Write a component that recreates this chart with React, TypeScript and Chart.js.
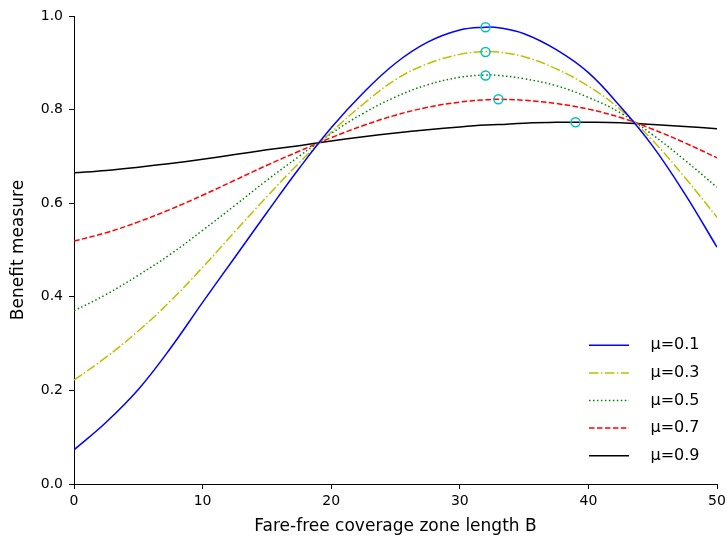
import React, { useEffect, useRef } from 'react';
import { Chart, registerables } from 'chart.js';

Chart.register(...registerables);

// Fare-free coverage zone length B (x positions of the sampled points)
const B = [0, 2.5, 5, 7.5, 10, 12.5, 15, 17.5, 20, 22.5, 25, 27.5, 30, 32, 33, 35, 37.5, 40, 42.5, 45, 47.5, 50];

// Benefit measure for each μ
const MU01 = [0.073, 0.132, 0.202, 0.290, 0.388, 0.484, 0.580, 0.674, 0.761, 0.836, 0.899, 0.944, 0.970, 0.976, 0.975, 0.962, 0.928, 0.879, 0.806, 0.722, 0.620, 0.506];
const MU03 = [0.222, 0.271, 0.327, 0.391, 0.463, 0.539, 0.614, 0.686, 0.752, 0.812, 0.864, 0.898, 0.918, 0.924, 0.923, 0.913, 0.887, 0.850, 0.800, 0.734, 0.655, 0.570];
const MU05 = [0.370, 0.405, 0.446, 0.491, 0.542, 0.595, 0.649, 0.700, 0.749, 0.792, 0.827, 0.853, 0.869, 0.874, 0.873, 0.866, 0.851, 0.826, 0.793, 0.746, 0.692, 0.634];
const MU07 = [0.519, 0.537, 0.560, 0.587, 0.617, 0.649, 0.681, 0.711, 0.740, 0.766, 0.788, 0.805, 0.816, 0.821, 0.822, 0.820, 0.813, 0.801, 0.783, 0.758, 0.729, 0.697];
const MU09 = [0.665, 0.670, 0.677, 0.685, 0.694, 0.704, 0.714, 0.723, 0.733, 0.742, 0.750, 0.757, 0.763, 0.767, 0.768, 0.771, 0.773, 0.773, 0.772, 0.768, 0.764, 0.759];

const SERIES_LABELS = ['μ=0.1', 'μ=0.3', 'μ=0.5', 'μ=0.7', 'μ=0.9'];
const SERIES_VALUES = [MU01, MU03, MU05, MU07, MU09];

// Maxima markers
const PEAK_B = [32, 32, 32, 33, 39];
const PEAK_VALUES = [0.976, 0.923, 0.873, 0.822, 0.773];

const X_TICKS_STEP = 10;
const Y_TICKS_STEP = 0.2;

const COLORS = ['#0000FF', '#BFBF00', '#008000', '#FF0000', '#000000'];
const DASHES: number[][] = [[], [9.6, 2.4, 1.5, 2.4], [1.5, 2.475], [5.55, 2.4], []];
const FONT = "'DejaVu Sans', sans-serif";

const legendPlugin = {
  id: 'insideLegend',
  afterDraw(chart: any) {
    const { ctx, chartArea } = chart;
    const n = SERIES_LABELS.length;
    const rowGap = 27.6;
    const lastY = chartArea.bottom - 28.3;
    const x0 = chartArea.right - 128;
    const x1 = chartArea.right - 88;
    const tx = chartArea.right - 66.5;
    ctx.save();
    for (let i = 0; i < n; i++) {
      const y = lastY - (n - 1 - i) * rowGap;
      ctx.beginPath();
      ctx.setLineDash(DASHES[i]);
      ctx.strokeStyle = COLORS[i];
      ctx.lineWidth = 1.5;
      ctx.moveTo(x0, y);
      ctx.lineTo(x1, y);
      ctx.stroke();
      ctx.setLineDash([]);
      ctx.fillStyle = '#000';
      ctx.font = `16px ${FONT}`;
      ctx.textBaseline = 'middle';
      ctx.textAlign = 'left';
      ctx.fillText(SERIES_LABELS[i], tx, y);
    }
    ctx.restore();
  },
};

export default function App() {
  const ref = useRef<HTMLCanvasElement | null>(null);

  useEffect(() => {
    document.body.style.margin = '0';
    const canvas = ref.current;
    if (!canvas) return;

    const lineSets = SERIES_VALUES.map((vals, i) => ({
      type: 'line' as const,
      label: SERIES_LABELS[i],
      data: B.map((b, j) => ({ x: b, y: vals[j] })),
      borderColor: COLORS[i],
      backgroundColor: COLORS[i],
      borderWidth: 1.5,
      borderDash: DASHES[i],
      pointRadius: 0,
      fill: false,
      tension: 0.4,
      order: 1,
    }));

    const markerSet = {
      type: 'scatter' as const,
      label: 'peaks',
      data: PEAK_B.map((b, j) => ({ x: b, y: PEAK_VALUES[j] })),
      borderColor: '#00BFBF',
      backgroundColor: 'rgba(0,0,0,0)',
      borderWidth: 1.5,
      pointRadius: 4.5,
      pointStyle: 'circle',
      showLine: false,
      order: 0,
    };

    const chart = new Chart(canvas, {
      type: 'line',
      data: { datasets: [...lineSets, markerSet] as any },
      options: {
        animation: false,
        responsive: false,
        maintainAspectRatio: false,
        layout: { padding: { left: 0, right: 10, top: 16, bottom: 0 } },
        plugins: {
          legend: { display: false },
          tooltip: { enabled: false },
          title: { display: false },
        },
        scales: {
          x: {
            type: 'linear',
            min: 0,
            max: 50,
            ticks: {
              stepSize: X_TICKS_STEP,
              color: '#000',
              font: { family: FONT, size: 14 },
              padding: 4,
              maxRotation: 0,
            },
            grid: { display: true, drawOnChartArea: false, drawTicks: true, tickLength: 5, color: '#000', lineWidth: 1 },
            border: { display: true, color: '#000', width: 1 },
            title: {
              display: true,
              text: 'Fare-free coverage zone length B',
              color: '#000',
              font: { family: FONT, size: 17 },
              padding: { top: 0, bottom: 3 },
            },
            afterFit: (s: any) => {
              s.height = 56;
              s.paddingLeft = 0;
              s.paddingRight = 0;
            },
          },
          y: {
            type: 'linear',
            min: 0,
            max: 1,
            ticks: {
              stepSize: Y_TICKS_STEP,
              color: '#000',
              font: { family: FONT, size: 14 },
              padding: 6,
              callback: (v: any) => Number(v).toFixed(1),
            },
            grid: { display: true, drawOnChartArea: false, drawTicks: true, tickLength: 5, color: '#000', lineWidth: 1 },
            border: { display: true, color: '#000', width: 1 },
            title: {
              display: true,
              text: 'Benefit measure',
              color: '#000',
              font: { family: FONT, size: 17 },
              padding: { top: 8, bottom: 0 },
            },
            afterFit: (s: any) => {
              s.width = 74;
              s.paddingTop = 0;
              s.paddingBottom = 0;
            },
          },
        },
      },
      plugins: [legendPlugin],
    });

    return () => chart.destroy();
  }, []);

  return <canvas ref={ref} width={727} height={540} style={{ display: 'block' }} />;
}
